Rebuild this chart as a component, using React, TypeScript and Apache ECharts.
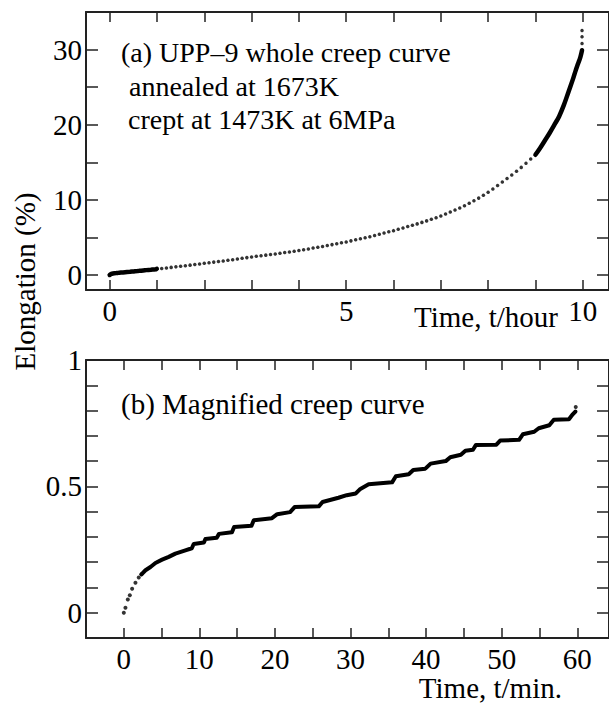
import React, { useEffect, useRef } from "react";
import * as echarts from "echarts";

const FONT = "Liberation Serif";

// ---- (b) magnified creep curve, time in minutes, elongation in % ----
const magnifiedEarly: [number, number][] = [
  [0, 0], [0.22, 0.02], [0.53, 0.052], [0.8, 0.069], [1.1, 0.095],
  [1.54, 0.119], [1.98, 0.139], [2.34, 0.152],
];
const magnifiedDense: [number, number][] = [
  [2.34, 0.152], [2.87, 0.168], [3.53, 0.181], [4.19, 0.197], [5.07, 0.21],
  [5.95, 0.221], [6.83, 0.234], [8.15, 0.247], [9.0, 0.255], [9.25, 0.272],
  [10.6, 0.278], [10.8, 0.292], [12.3, 0.297], [12.6, 0.312], [14.3, 0.318],
  [14.6, 0.339], [16.9, 0.344], [17.2, 0.366], [19.6, 0.374], [20.3, 0.39],
  [22.0, 0.398], [22.6, 0.418], [25.8, 0.421], [26.3, 0.438], [28.4, 0.455],
  [29.5, 0.465], [30.7, 0.472], [31.3, 0.49], [32.4, 0.508], [35.5, 0.516],
  [36.0, 0.54], [37.7, 0.548], [38.3, 0.565], [39.9, 0.57], [40.6, 0.59],
  [42.6, 0.6], [43.2, 0.615], [44.6, 0.625], [45.2, 0.641], [46.2, 0.645],
  [46.6, 0.664], [49.3, 0.665], [49.8, 0.681], [52.3, 0.684], [52.8, 0.706],
  [54.3, 0.716], [54.9, 0.73], [56.3, 0.742], [56.9, 0.764], [58.9, 0.766],
  [59.4, 0.785], [59.75, 0.796],
];
const magnifiedEnd: [number, number][] = [[59.8, 0.814]];

// ---- (a) whole creep curve, time in hours, elongation in % ----
const wholeSparse: [number, number][] = [
  [1.1, 0.87], [1.2, 0.94], [1.3, 1.01], [1.4, 1.08], [1.5, 1.15],
  [1.6, 1.23], [1.7, 1.31], [1.8, 1.39], [1.9, 1.47], [2.0, 1.55],
  [2.1, 1.63], [2.2, 1.71], [2.3, 1.79], [2.4, 1.87], [2.5, 1.95],
  [2.6, 2.04], [2.7, 2.13], [2.8, 2.22], [2.9, 2.31], [3.0, 2.4],
  [3.1, 2.48], [3.2, 2.56], [3.3, 2.64], [3.4, 2.72], [3.5, 2.8],
  [3.6, 2.89], [3.7, 2.98], [3.8, 3.07], [3.9, 3.16], [4.0, 3.25],
  [4.1, 3.36], [4.2, 3.47], [4.3, 3.58], [4.4, 3.69], [4.5, 3.8],
  [4.6, 3.92], [4.7, 4.04], [4.8, 4.16], [4.9, 4.28], [5.0, 4.4],
  [5.1, 4.54], [5.2, 4.68], [5.3, 4.82], [5.4, 4.96], [5.5, 5.1],
  [5.6, 5.26], [5.7, 5.42], [5.8, 5.58], [5.9, 5.74], [6.0, 5.9],
  [6.1, 6.08], [6.2, 6.26], [6.3, 6.44], [6.4, 6.62], [6.5, 6.8],
  [6.6, 7.0], [6.7, 7.2], [6.8, 7.41], [6.9, 7.63], [7.0, 7.85],
  [7.1, 8.11], [7.2, 8.37], [7.3, 8.64], [7.4, 8.92], [7.5, 9.2],
  [7.6, 9.54], [7.7, 9.88], [7.8, 10.23], [7.9, 10.6], [8.0, 11.0],
  [8.1, 11.44], [8.2, 11.9], [8.3, 12.36], [8.4, 12.83], [8.5, 13.3],
  [8.6, 13.8], [8.7, 14.32], [8.8, 14.87], [8.9, 15.43],
];
const wholeDense: [number, number][] = [
  [9.0, 16.0], [9.1, 16.9], [9.2, 17.9], [9.3, 18.9], [9.42, 20.2],
  [9.5, 21.1], [9.6, 22.6], [9.7, 24.4], [9.8, 26.2], [9.85, 27.2],
  [9.9, 28.1], [9.95, 29.0], [9.985, 29.9],
];
const wholeEnd: [number, number][] = [
  [9.985, 30.8], [9.985, 31.7], [9.985, 32.55],
];

// ---- axis ticks / labels ----
const topXTicks = [0, 1, 2, 3, 4, 5, 6, 7, 8, 9, 10];
const topXLabels = [0, 5, 10];
const topYTicks = [0, 5, 10, 15, 20, 25, 30];
const topYLabels = [0, 10, 20, 30];
const botXTicks = [0, 5, 10, 15, 20, 25, 30, 35, 40, 45, 50, 55, 60];
const botXLabels = [0, 10, 20, 30, 40, 50, 60];
const botYTicks = [0, 0.1, 0.2, 0.3, 0.4, 0.5, 0.6, 0.7, 0.8, 0.9];
const botYLabels = [0, 0.5, 1];

export default function App() {
  const ref = useRef<HTMLDivElement>(null);
  useEffect(() => {
    const chart = echarts.init(ref.current!, null, { renderer: "svg" });
    const lineC = "#222";
    const axisLine = { show: true, onZero: false, lineStyle: { color: lineC, width: 2 } };
    const labelStyle = { color: "#000", fontFamily: FONT, fontSize: 29 };

    const makeX = (grid: number, min: number, max: number, ticks: number[], labels: number[] | null, position: string) => ({
      type: "value", gridIndex: grid, min, max, position,
      axisLine,
      splitLine: { show: false },
      axisTick: { show: true, inside: true, length: 10, customValues: ticks, lineStyle: { color: lineC, width: 1.5 } },
      axisLabel: labels
        ? { show: true, customValues: labels, margin: 6, ...labelStyle }
        : { show: false },
    });
    const makeY = (grid: number, min: number, max: number, ticks: number[], labels: number[] | null, position: string) => ({
      type: "value", gridIndex: grid, min, max, position,
      axisLine,
      splitLine: { show: false },
      axisTick: { show: true, inside: true, length: 12, customValues: ticks, lineStyle: { color: lineC, width: 1.5 } },
      axisLabel: labels
        ? { show: true, customValues: labels, margin: 4, ...labelStyle }
        : { show: false },
    });

    const topDenseStart = [...magnifiedEarly, ...magnifiedDense, ...magnifiedEnd].map(
      ([t, v]) => [t / 60, v]
    );

    const thick = (data: any, xi: number, yi: number, smooth: any = false, width = 4) => ({
      type: "line", data, xAxisIndex: xi, yAxisIndex: yi, showSymbol: false, smooth,
      lineStyle: { color: "#000", width, cap: "round", join: "round" },
      silent: true,
    });
    const dots = (data: any, xi: number, yi: number, size: number) => ({
      type: "scatter", data, xAxisIndex: xi, yAxisIndex: yi, symbolSize: size,
      itemStyle: { color: "#000" }, silent: true,
    });

    const textStyle = (text: string, size: number, extra: any = {}) => ({
      text, fill: "#000", fontFamily: FONT, fontSize: size, ...extra,
    });

    chart.setOption({
      animation: false,
      backgroundColor: "#fff",
      grid: [
        { left: 86, top: 12, width: 524, height: 278 },
        { left: 86, top: 360, width: 524, height: 278 },
      ],
      xAxis: [
        makeX(0, -0.5, 10.555, topXTicks, topXLabels, "bottom"),
        makeX(0, -0.5, 10.555, topXTicks, null, "top"),
        makeX(1, -5, 64.2, botXTicks, botXLabels, "bottom"),
        makeX(1, -5, 64.2, botXTicks, null, "top"),
      ],
      yAxis: [
        makeY(0, -2, 35, topYTicks, topYLabels, "left"),
        makeY(0, -2, 35, topYTicks, null, "right"),
        makeY(1, -0.1, 1, botYTicks, botYLabels, "left"),
        makeY(1, -0.1, 1, botYTicks, null, "right"),
      ],
      series: [
        thick(topDenseStart, 0, 0, false, 4.5),
        dots(wholeSparse, 0, 0, 3.5),
        thick(wholeDense, 0, 0, 0.4, 4.5),
        dots(wholeEnd, 0, 0, 3.5),
        dots(magnifiedEarly, 2, 2, 4),
        thick(magnifiedDense, 2, 2, false, 4),
        dots(magnifiedEnd, 2, 2, 4),
      ],
      graphic: [
        { type: "text", x: 121, y: 52.5, style: textStyle("(a) UPP\u20139 whole creep curve", 28, { textVerticalAlign: "middle" }) },
        { type: "text", x: 129, y: 86, style: textStyle("annealed at 1673K", 28, { textVerticalAlign: "middle" }) },
        { type: "text", x: 128, y: 119.5, style: textStyle("crept at 1473K at 6MPa", 28, { textVerticalAlign: "middle" }) },
        { type: "text", x: 121, y: 403.5, style: textStyle("(b) Magnified creep curve", 29, { textVerticalAlign: "middle" }) },
        { type: "text", x: 558, y: 317, style: textStyle("Time, t/hour", 29, { textAlign: "right", textVerticalAlign: "middle" }) },
        { type: "text", x: 562, y: 688, style: textStyle("Time, t/min.", 29, { textAlign: "right", textVerticalAlign: "middle" }) },
        {
          type: "text", x: 25, y: 281.5, rotation: Math.PI / 2,
          style: textStyle("Elongation (%)", 29, { textAlign: "center", textVerticalAlign: "middle" }),
        },
      ],
    });
    return () => chart.dispose();
  }, []);
  return (
    <div
      ref={ref}
      style={{ position: "absolute", left: 0, top: 0, width: 609, height: 704, background: "#fff" }}
    />
  );
}
